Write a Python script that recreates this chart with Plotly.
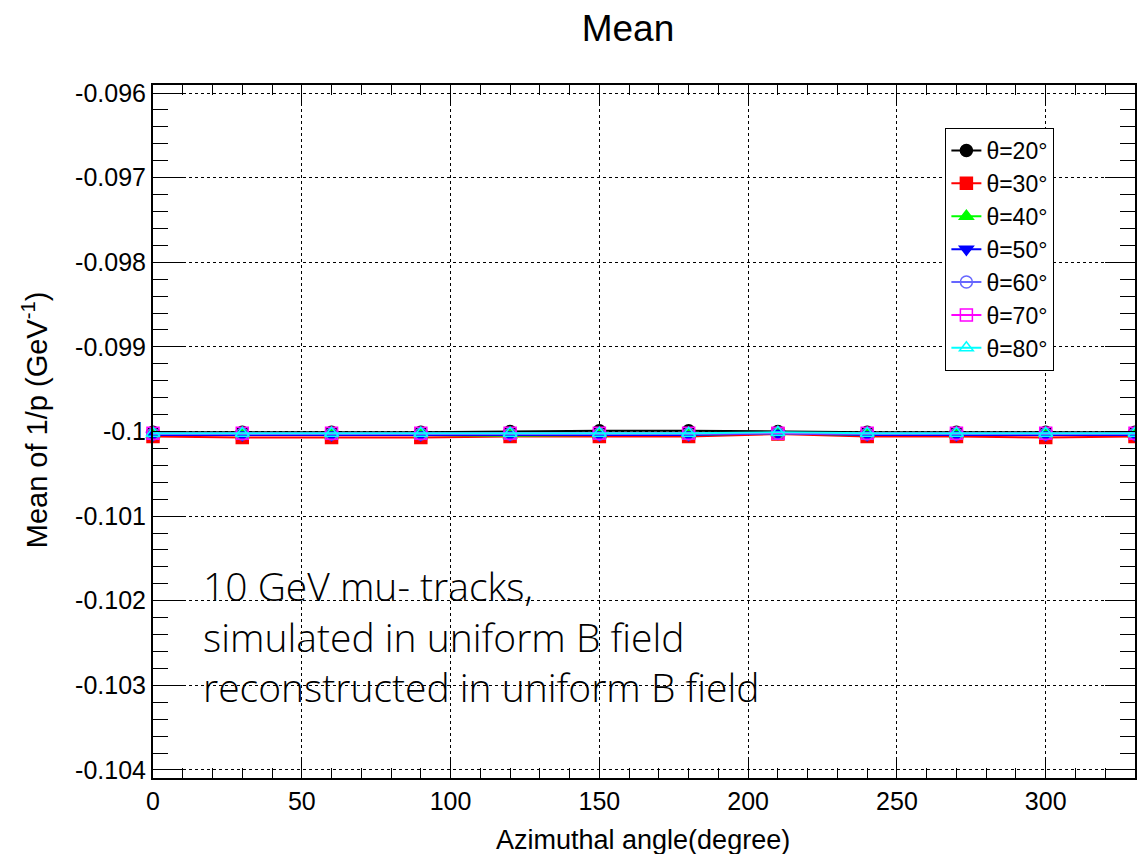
import plotly.graph_objects as go

# ---- data ----
phi = [0, 30, 60, 90, 120, 150, 180, 210, 240, 270, 300, 330]
labels = ["θ=20°", "θ=30°", "θ=40°", "θ=50°", "θ=60°", "θ=70°", "θ=80°"]
mean_20 = [-0.10001, -0.10001, -0.10001, -0.10001, -0.10000, -0.09999, -0.09999, -0.10000, -0.10001, -0.10001, -0.10001, -0.10001]
mean_30 = [-0.10006, -0.10007, -0.10007, -0.10007, -0.10006, -0.10006, -0.10006, -0.10003, -0.10006, -0.10006, -0.10007, -0.10006]
mean_40 = [-0.10004, -0.10004, -0.10004, -0.10004, -0.10005, -0.10004, -0.10004, -0.10002, -0.10004, -0.10004, -0.10004, -0.10004]
mean_50 = [-0.10004, -0.10004, -0.10004, -0.10004, -0.10004, -0.10004, -0.10004, -0.10002, -0.10004, -0.10004, -0.10004, -0.10004]
mean_60 = [-0.10003, -0.10003, -0.10003, -0.10003, -0.10003, -0.10003, -0.10003, -0.10002, -0.10003, -0.10003, -0.10003, -0.10003]
mean_70 = [-0.10002, -0.10002, -0.10002, -0.10002, -0.10002, -0.10002, -0.10002, -0.10002, -0.10002, -0.10002, -0.10002, -0.10002]
mean_80 = [-0.10002, -0.10002, -0.10002, -0.10002, -0.10002, -0.10002, -0.10002, -0.10001, -0.10002, -0.10002, -0.10002, -0.10002]
y_tickvals = [-0.096, -0.097, -0.098, -0.099, -0.100, -0.101, -0.102, -0.103, -0.104]
y_ticktext = ["-0.096", "-0.097", "-0.098", "-0.099", "-0.1", "-0.101", "-0.102", "-0.103", "-0.104"]
x_tickvals = [0, 50, 100, 150, 200, 250, 300]
x_ticktext = ["0", "50", "100", "150", "200", "250", "300"]

series = [mean_20, mean_30, mean_40, mean_50, mean_60, mean_70, mean_80]
colors = ["#000000", "#ff0000", "#00ff00", "#0000ff", "#6666ff", "#ff00ff", "#00ffff"]
symbols = ["circle", "square", "triangle-up", "triangle-down", "circle-open", "square-open", "triangle-up-open"]

FONT = "Liberation Sans, Arial, Helvetica, sans-serif"

fig = go.Figure()
for vals, lab, col, sym in zip(series, labels, colors, symbols):
    fig.add_trace(go.Scatter(
        x=phi, y=vals, name=lab, mode="lines+markers",
        line=dict(color=col, width=2),
        marker=dict(symbol=sym, size=12, color=col, line=dict(color=col, width=1.5)),
        cliponaxis=False,
    ))

fig.update_layout(
    width=1137, height=854,
    margin=dict(l=153, r=0, t=85, b=76),
    paper_bgcolor="white", plot_bgcolor="white",
    font=dict(family=FONT, color="black"),
    title=dict(text="Mean", x=628/1137, xref="container", xanchor="center",
               y=1 - 28/854, yref="container", yanchor="middle",
               font=dict(size=37, family=FONT, color="black")),
    showlegend=True,
    legend=dict(x=(947-153)/984, y=1-(128-85)/693, xanchor="left", yanchor="top",
                bgcolor="white", bordercolor="black", borderwidth=1,
                font=dict(size=23, family=FONT, color="black"),
                tracegroupgap=0, itemwidth=30),
)

fig.update_xaxes(
    range=[0, 330], tickmode="array", tickvals=x_tickvals, ticktext=x_ticktext,
    ticks="inside", ticklen=21, tickwidth=1, tickcolor="black",
    showline=True, linecolor="black", linewidth=2, mirror="allticks",
    showgrid=True, gridcolor="black", griddash="dot", gridwidth=1,
    zeroline=False,
    tickfont=dict(size=25, family=FONT, color="black"),
    minor=dict(dtick=10, tick0=0, ticks="inside", ticklen=10, tickcolor="black", tickwidth=1, showgrid=False),
)
fig.update_yaxes(
    range=[-0.104095, -0.095905], tickmode="array", tickvals=y_tickvals, ticktext=y_ticktext,
    ticks="inside", ticklen=30, tickwidth=1, tickcolor="black",
    showline=True, linecolor="black", linewidth=2, mirror="allticks",
    showgrid=True, gridcolor="black", griddash="dot", gridwidth=1,
    zeroline=False,
    tickfont=dict(size=25, family=FONT, color="black"),
    minor=dict(dtick=0.0002, tick0=-0.1, ticks="inside", ticklen=15, tickcolor="black", tickwidth=1, showgrid=False),
)

fig.add_annotation(text="Azimuthal angle(degree)", xref="paper", yref="paper",
                   x=(644-153)/984, y=-(840-778)/693, xanchor="center", yanchor="middle",
                   showarrow=False, font=dict(size=27, family=FONT, color="black"))
fig.add_annotation(text="Mean of 1/p (GeV<sup>-1</sup>)", xref="paper", yref="paper",
                   x=-(153-35)/984, y=1-(420-85)/693, xanchor="center", yanchor="middle",
                   textangle=-90, showarrow=False, font=dict(size=29, family=FONT, color="black"))
fig.add_annotation(text="10 GeV mu- tracks,<br>simulated in uniform B field<br>reconstructed in uniform B field",
                   xref="paper", yref="paper", x=(201-153)/984, y=1-(636-85)/693,
                   xanchor="left", yanchor="middle", align="left", showarrow=False,
                   font=dict(size=39, family="Open Sans, Liberation Sans, sans-serif", weight=300, color="black"))

fig.write_html("out.html", post_script="document.body.style.margin='0';",
               config={"displayModeBar": False})
